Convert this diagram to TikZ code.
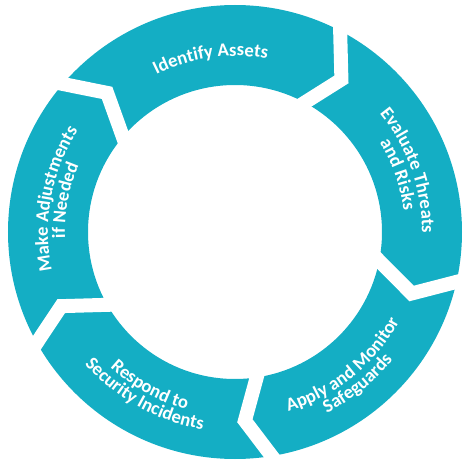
\documentclass[tikz,border=0pt]{standalone}
\usepackage{fontspec}
\newfontfamily\labelfont{Carlito}
\usetikzlibrary{calc,decorations.text}
\definecolor{ringteal}{RGB}{20,174,196}
\tikzset{
	gapline/.style={draw=white,line width=10.5pt,miter limit=20},
	ringtext/.style={decorate,decoration={text along path,text align=center,text color=white,
		text={|\labelfont\bfseries\fontsize{14}{16}\selectfont|#1}}}
}
\begin{document}
\begin{tikzpicture}[x=0.75pt,y=0.75pt]
		\useasboundingbox (-235,-232) rectangle (233,232); %frame of the picture
		
		\fill[ringteal,even odd rule] (0,0) circle (227) circle (147); %ring
		
		% gaps between the steps, tip points clockwise
		\coordinate (o1) at (62.4:227);   \coordinate (t1) at (55.1:186);   \coordinate (i1) at (61.7:147);
		\coordinate (o2) at (-12.7:227);  \coordinate (t2) at (-19.2:187);  \coordinate (i2) at (-11.3:147);
		\coordinate (o3) at (-80.7:227);  \coordinate (t3) at (-87:189);    \coordinate (i3) at (-81.5:147);
		\coordinate (o4) at (-150.8:227); \coordinate (t4) at (-156.9:189); \coordinate (i4) at (-150.3:147);
		\coordinate (o5) at (139.3:227);  \coordinate (t5) at (132.6:189);  \coordinate (i5) at (139.7:147);
		
		\draw[gapline] ($(t1)!1.5!(o1)$) -- (t1) -- ($(t1)!1.6!(i1)$); %identify | evaluate
		\draw[gapline] ($(t2)!1.5!(o2)$) -- (t2) -- ($(t2)!1.6!(i2)$); %evaluate | apply
		\draw[gapline] ($(t3)!1.5!(o3)$) -- (t3) -- ($(t3)!1.6!(i3)$); %apply | respond
		\draw[gapline] ($(t4)!1.5!(o4)$) -- (t4) -- ($(t4)!1.6!(i4)$); %respond | adjust
		\draw[gapline] ($(t5)!1.5!(o5)$) -- (t5) -- ($(t5)!1.6!(i5)$); %adjust | identify
		
		% texts, top of the letters outward
		\path[ringtext={Identify Assets}] (138:176) arc[start angle=138,end angle=58,radius=176]; %top
		\path[ringtext={Evaluate Threats}] (59.5:187) arc[start angle=59.5,end angle=-20.5,radius=187]; %right
		\path[ringtext={and Risks}] (59.5:170) arc[start angle=59.5,end angle=-20.5,radius=170];
		\path[ringtext={Make Adjustments}] (209.5:187) arc[start angle=209.5,end angle=129.5,radius=187]; %left
		\path[ringtext={if Needed}] (209.5:170) arc[start angle=209.5,end angle=129.5,radius=170];
		
		% texts, top of the letters inward
		\path[ringtext={Apply and Monitor}] (-91:187) arc[start angle=-91,end angle=-11,radius=187]; %bottom right
		\path[ringtext={Safeguards}] (-91:203) arc[start angle=-91,end angle=-11,radius=203];
		\path[ringtext={Respond to}] (-159:184) arc[start angle=-159,end angle=-79,radius=184]; %bottom left
		\path[ringtext={Security Incidents}] (-159:200) arc[start angle=-159,end angle=-79,radius=200];
\end{tikzpicture}
\end{document}
